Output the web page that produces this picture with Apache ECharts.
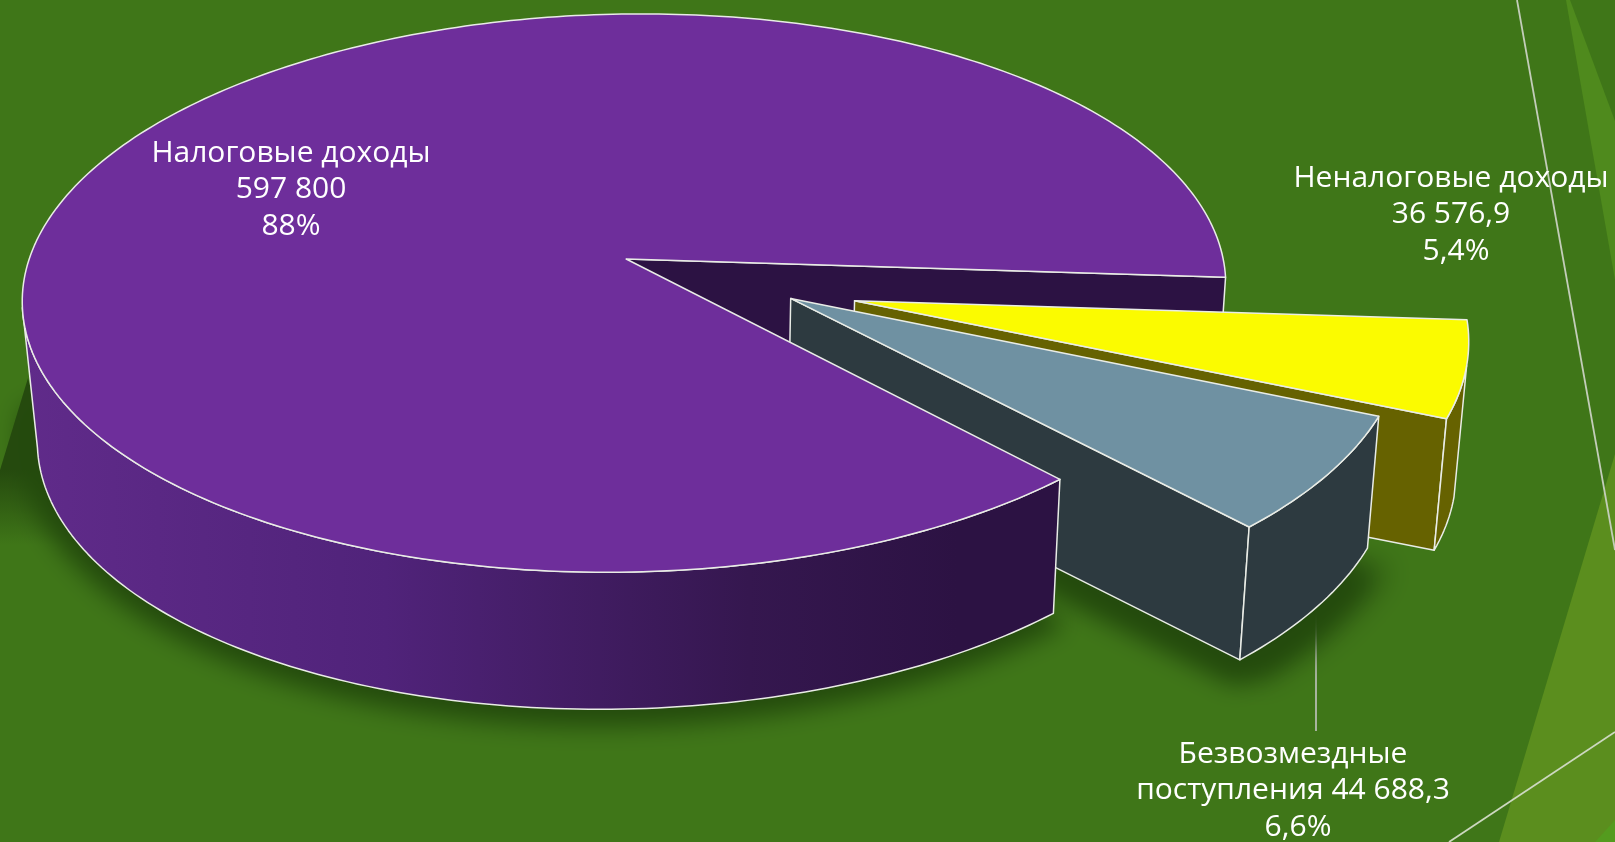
<!DOCTYPE html>
<html><head><meta charset="utf-8">
<style>html,body{margin:0;padding:0;background:#3f7618}#c{width:1615px;height:842px}</style>
<script src="https://cdn.jsdelivr.net/npm/echarts@6/dist/echarts.min.js"></script>
</head><body><div id="c"></div>
<script>
const categories = ['Налоговые доходы', 'Неналоговые доходы', 'Безвозмездные поступления'];
const values = [597800, 36576.9, 44688.3];
const labelLines = [
  ['Налоговые доходы', '597 800', '88%'],
  ['Неналоговые доходы', '36 576,9', '5,4%'],
  ['Безвозмездные', 'поступления 44 688,3', '6,6%']
];
const topColors = ['#6e2e9b', '#fbfb00', '#6f91a2'];
const sideColors = ['#2c1243', '#666200', '#2d3a40'];
const explode = [[0, 0], [0.380, 0.149], [0.275, 0.141]];
const labelCenters = [[291, 153], [1451, 178], [1293, 754]];
const labelShift = [[0, 0, 0], [0, 0, 5], [0, 0, 5]];

const total = values.reduce((a, b) => a + b, 0);
const startDeg = 3.8;
const spans = {};
(function () {
  let a = startDeg;
  [1, 2, 0].forEach(i => { const s = values[i] / total * 360; spans[i] = [a, a + s]; a += s; });
})();

const CX = 624, CY = 293, A = 597, B = 275, K = -0.122, APY = 259, SK = -0.0645;
function proj(u, v) {
  const d = 1 + K * v;
  const y = APY + B * v / d;
  return [CX + A * u / d + SK * (y - CY), y];
}
function drop(p) {
  const sx = p[0] < 625 ? 0.975 : 0.985;
  return [625 + sx * (p[0] - 625), p[1] + 136.2 + 0.0027 * (p[1] - CY) - 0.00636 * (p[0] - 625)];
}
function arc(i, a0, a1) {
  const e = explode[i], pts = [], n = Math.max(2, Math.ceil(Math.abs(a1 - a0) / 1));
  for (let j = 0; j <= n; j++) {
    const t = (a0 + (a1 - a0) * j / n) * Math.PI / 180;
    pts.push(proj(e[0] + Math.cos(t), e[1] + Math.sin(t)));
  }
  return pts;
}
const EDGE = { stroke: '#e9ece6', lineWidth: 1.5, lineJoin: 'round' };
function poly(points, fill, z2) {
  return { type: 'polygon', z2: z2, silent: true, shape: { points: points },
    style: Object.assign({ fill: fill }, EDGE) };
}
// only the blurred shadow lands on the canvas; the shape itself sits off-screen
const OFF = 3000;
function shadow(points, z2, blur) {
  return { type: 'polygon', z2: z2, silent: true, x: -OFF, shape: { points: points },
    style: { fill: '#000', shadowColor: '#234a0c', shadowBlur: blur, shadowOffsetX: OFF } };
}
const wallGradient = { type: 'linear', x: 0, y: 0, x2: 1, y2: 0, colorStops: [
  { offset: 0, color: '#602b8a' }, { offset: 0.35, color: '#50237a' },
  { offset: 0.7, color: '#35174f' }, { offset: 0.9, color: '#2c1243' }, { offset: 1, color: '#2c1243' } ] };

function renderItem(params) {
  const i = params.dataIndex, sp = spans[i], c = [];
  const e = explode[i];
  const apex = proj(e[0], e[1]);
  const base = i === 1 ? 2 : i === 2 ? 5 : 8;
  if (i === 0) {
    const a0 = sp[0], a1 = sp[1];
    const r = proj(Math.cos(a1 * Math.PI / 180), Math.sin(a1 * Math.PI / 180));
    c.push(poly([apex, r, drop(r), drop(apex)], sideColors[0], 1));
    const front = arc(0, a0, 170);
    const bottom = front.map(drop);
    const grown = arc(0, a0, 178).map(drop).map(p => [622 + (p[0] - 622) * 1.03, 440 + (p[1] - 440) * 1.065]);
    c.push(shadow(grown.concat([[625, 300]]), 0, 24));
    c.push(poly(front.concat(bottom.slice().reverse()), wallGradient, base));
    c.push(poly([apex].concat(arc(0, a0, a1)), topColors[0], base + 1));
  } else {
    const outer = arc(i, sp[0], sp[1]);
    const end = outer[outer.length - 1];
    const wallArc = i === 1 ? arc(i, sp[0] + 9, sp[1]) : outer;
    const bottom = wallArc.map(drop);
    if (i === 2) {
      const foot = outer.map(drop).concat([drop(apex)]);
      c.push(shadow(foot.map(p => [p[0] + 20, p[1] + 20]), 0, 30));
      c.push(shadow(foot.map(p => [p[0] - 4, p[1] + 26]), 0, 26));
    }
    c.push(poly([apex, end, drop(end), drop(apex)], sideColors[i], base));
    c.push(poly(wallArc.concat(bottom.slice().reverse()), sideColors[i], base + 1));
    c.push(poly([apex].concat(outer), topColors[i], base + 2));
  }
  labelLines[i].forEach((t, k) => {
    c.push({ type: 'text', z2: 20, silent: true,
      x: labelCenters[i][0] + labelShift[i][k], y: labelCenters[i][1] + k * 36.9,
      style: { text: t, fill: '#fff', align: 'center', verticalAlign: 'middle',
        font: '30px "Open Sans"' } });
  });
  return { type: 'group', children: c };
}

const chart = echarts.init(document.getElementById('c'), null, { renderer: 'canvas' });
chart.setOption({
  animation: false,
  backgroundColor: '#3f7618',
  tooltip: { show: false },
  graphic: { elements: [
    { type: 'polygon', z: 0, silent: true, shape: { points: [[1566, 0], [1570, 0], [1615, 121], [1615, 280]] }, style: { fill: '#4f8a1d' } },
    { type: 'polygon', z: 0, silent: true, shape: { points: [[1615, 454], [1499, 842], [1615, 842]] }, style: { fill: '#5b8e1e' } },
    { type: 'polygon', z: 0, silent: true, shape: { points: [[1615, 820], [1595, 842], [1615, 842]] }, style: { fill: '#549b1e' } },
    { type: 'polygon', z: 0, silent: true, shape: { points: [[28, 378], [0, 470], [0, 545], [70, 545]] },
      style: { fill: { type: 'linear', x: 0, y: 0, x2: 0, y2: 1, colorStops: [
        { offset: 0, color: '#254a0e' }, { offset: 0.55, color: '#254a0e' }, { offset: 1, color: 'rgba(37,74,14,0)' } ] } } },
    { type: 'line', z: 0, silent: true, shape: { x1: 1517, y1: 0, x2: 1615, y2: 550 }, style: { stroke: '#c3cdb9', lineWidth: 1.8 } },
    { type: 'line', z: 0, silent: true, shape: { x1: 1449, y1: 842, x2: 1615, y2: 732 }, style: { stroke: '#cdd8c0', lineWidth: 1.8 } },
    { type: 'line', z: 1, silent: true, shape: { x1: 1316, y1: 600, x2: 1316, y2: 731 }, style: { stroke: '#b4bcae', lineWidth: 1.8 } }
  ] },
  series: [{
    type: 'custom', coordinateSystem: 'none', silent: true, animation: false, z: 2,
    renderItem: renderItem,
    data: categories.map((name, i) => ({ name: name, value: values[i] }))
  }]
});
</script></body></html>
